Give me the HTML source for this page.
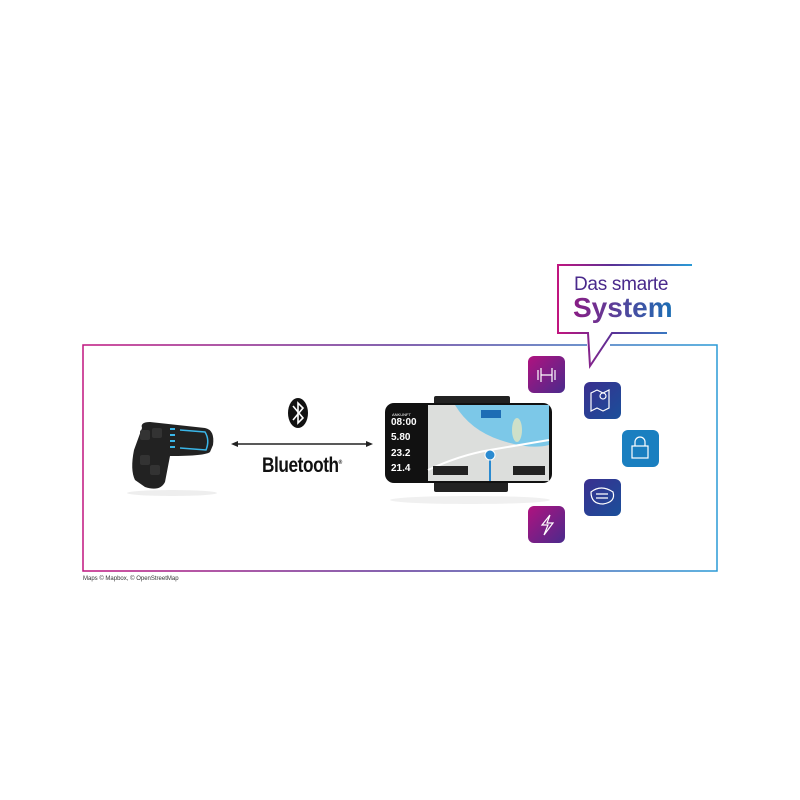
<!DOCTYPE html>
<html><head><meta charset="utf-8"><style>
body{margin:0;width:800px;height:800px;background:#fff;position:relative;overflow:hidden;font-family:"Liberation Sans",sans-serif}
.a{position:absolute}
.ic{position:absolute;width:37px;height:37px;border-radius:6px}
.pk{background:linear-gradient(135deg,#b0127f,#4a2a8c)}
.bl{background:linear-gradient(135deg,#3a2f8f,#1a4f9a)}
.lb{background:#1a7fc0}
</style></head><body>
<svg class="a" style="left:0;top:0" width="800" height="800">
<defs>
<linearGradient id="g" x1="83" y1="0" x2="717" y2="0" gradientUnits="userSpaceOnUse"><stop offset="0" stop-color="#c0157f"/><stop offset="0.5" stop-color="#5a2f95"/><stop offset="1" stop-color="#2a9ad6"/></linearGradient>
<linearGradient id="g2" x1="558" y1="0" x2="692" y2="0" gradientUnits="userSpaceOnUse"><stop offset="0" stop-color="#c0157f"/><stop offset="0.4" stop-color="#5a2f95"/><stop offset="1" stop-color="#2a9ad6"/></linearGradient>
</defs>
<path d="M587 345 H83 V571 H717 V345 H610" fill="none" stroke="url(#g)" stroke-width="1.5"/>
<path d="M667 333 H612 L590 366 L588 333 H558 V265 H692" fill="none" stroke="url(#g2)" stroke-width="2"/>
<line x1="236" y1="444" x2="368" y2="444" stroke="#222" stroke-width="1.5"/>
<path d="M231 444 l7 -3 v6z M373 444 l-7 -3 v6z" fill="#222"/>
<ellipse cx="298" cy="413" rx="10" ry="15" fill="#111"/>
<path d="M293 406 L303 418 L298 423 V403 L303 408 L293 420" fill="none" stroke="#fff" stroke-width="1.6"/>
<!-- remote -->
<path d="M142 428 Q140 422 150 422 L205 428 Q215 430 213 445 L210 452 Q205 456 170 456 L165 482 Q160 492 145 487 L135 480 Q130 470 134 450 Z" fill="#222"/>
<path d="M180 430 L205 432 Q210 440 206 450 L180 448" fill="none" stroke="#3ab6e8" stroke-width="1.5"/>
<g fill="#3ab6e8"><rect x="170" y="428" width="5" height="2"/><rect x="170" y="434" width="5" height="2"/><rect x="170" y="440" width="5" height="2"/><rect x="170" y="446" width="5" height="2"/></g>
<g fill="#333"><rect x="140" y="430" width="10" height="10" rx="2"/><rect x="152" y="428" width="10" height="10" rx="2"/><rect x="140" y="455" width="10" height="10" rx="2"/><rect x="150" y="465" width="10" height="10" rx="2"/></g>
<ellipse cx="172" cy="493" rx="45" ry="3" fill="#eee"/>
<!-- phone -->
<rect x="434" y="396" width="76" height="9" rx="2" fill="#222"/>
<rect x="434" y="481" width="74" height="11" rx="2" fill="#222"/>
<rect x="385" y="403" width="167" height="80" rx="9" fill="#111"/>
<rect x="428" y="405" width="121" height="76" fill="#dcdedc"/>
<path d="M455 405 Q470 430 500 440 Q530 450 549 445 V405Z" fill="#7cc8e8"/>
<ellipse cx="517" cy="430" rx="5" ry="12" fill="#cfe0c8"/>
<path d="M428 470 Q460 455 490 450 L549 440" fill="none" stroke="#fff" stroke-width="2"/>
<path d="M490 452 V481" stroke="#2a8ad0" stroke-width="2"/>
<circle cx="490" cy="455" r="5" fill="#2a8ad0" stroke="#fff"/>
<rect x="481" y="410" width="20" height="8" fill="#1d6db5"/>
<rect x="433" y="466" width="35" height="9" fill="#222"/>
<rect x="513" y="466" width="32" height="9" fill="#222"/>
<ellipse cx="470" cy="500" rx="80" ry="4" fill="#f0f0f0"/>
</svg>
<div class="a" style="left:392px;top:412px;color:#fff;font-size:4px;line-height:5px">ANKUNFT</div>
<div class="a" style="left:391px;top:417px;color:#fff;font-size:10px;font-weight:bold">08:00</div>
<div class="a" style="left:391px;top:432px;color:#fff;font-size:10px;font-weight:bold">5.80</div>
<div class="a" style="left:391px;top:448px;color:#fff;font-size:10px;font-weight:bold">23.2</div>
<div class="a" style="left:391px;top:463px;color:#fff;font-size:10px;font-weight:bold">21.4</div>
<div class="a" style="left:262px;top:454px;font-size:21px;font-weight:bold;color:#111;transform:scaleX(0.82);transform-origin:left;letter-spacing:-0.5px">Bluetooth<sup style="font-size:6px">®</sup></div>
<div class="a" style="left:574px;top:274px;font-size:19px;color:#4a2a8c;letter-spacing:-0.3px">Das smarte</div>
<div class="a" style="left:573px;top:292px;font-size:28px;font-weight:bold;background:linear-gradient(90deg,#8a1c84,#1a6fb5);-webkit-background-clip:text;color:transparent">System</div>
<div class="ic pk" style="left:528px;top:356px"></div>
<div class="ic bl" style="left:584px;top:382px"></div>
<div class="ic lb" style="left:622px;top:430px"></div>
<div class="ic bl" style="left:584px;top:479px"></div>
<div class="ic pk" style="left:528px;top:506px"></div>
<svg class="a" style="left:0;top:0" width="800" height="800" fill="none" stroke="#fff" stroke-width="1.2">
<path d="M538 370 v10 M541 368 v14 M541 375 h11 M552 368 v14 M555 370 v10"/>
<path d="M591 393 l6 -3 6 3 6 -3 v18 l-6 3 -6 -3 -6 3z"/>
<circle cx="603" cy="396" r="3"/>
<rect x="632" y="446" width="16" height="12"/><path d="M635 446 v-4 a5 5 0 0 1 10 0 v4"/>
<path d="M591 492 q10 -8 22 0 q3 10 -10 12 q-12 0 -12 -12z"/><path d="M596 494 h12 M596 498 h12"/>
<path d="M550 515 l-8 10 h6 l-4 10 l9 -12 h-6z"/>
</svg>
<div class="a" style="left:83px;top:576px;font-size:6px;color:#333">Maps © Mapbox, © OpenStreetMap</div>
</body></html>
